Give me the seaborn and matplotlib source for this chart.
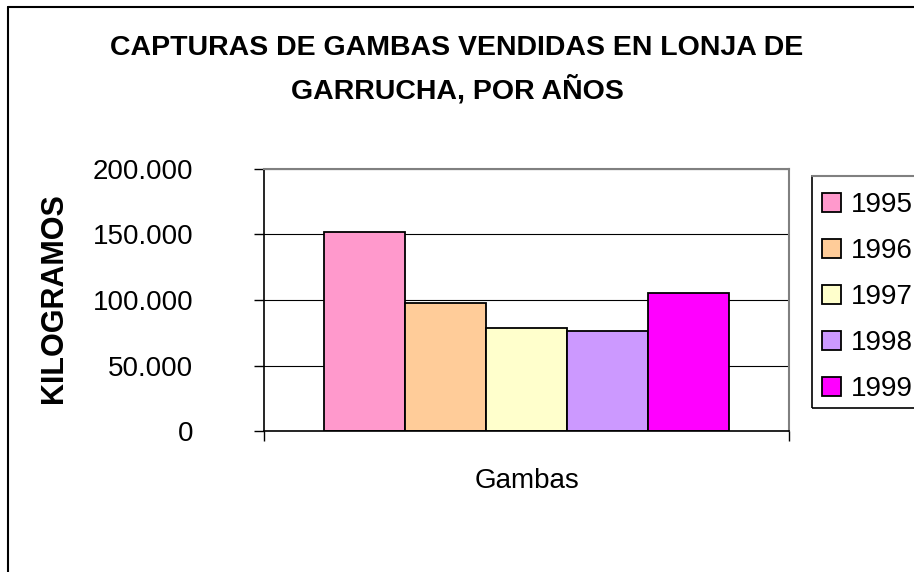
"""
Capturas de gambas vendidas en la lonja de Garrucha, por años.
"""
import matplotlib
matplotlib.use("Agg")
import matplotlib.pyplot as plt
import pandas as pd
import seaborn as sns
from matplotlib import ticker

# data
categoria = ["Gambas"]
anios = ["1995", "1996", "1997", "1998", "1999"]
kilogramos = [152000, 98000, 79000, 76000, 105000]
colores = ["#FF99CC", "#FFCC99", "#FFFFCC", "#CC99FF", "#FF00FF"]
yticks = [0, 50000, 100000, 150000, 200000]

df = pd.DataFrame({"categoria": categoria * len(anios), "anio": anios, "kg": kilogramos})

sns.set_theme(style="white")
plt.rcParams["font.family"] = ["Liberation Sans", "DejaVu Sans"]
plt.rcParams["text.color"] = "black"
plt.rcParams["xtick.color"] = "black"
plt.rcParams["ytick.color"] = "black"

W, H = 914, 572
fig = plt.figure(figsize=(W / 100, H / 100), dpi=100)
ax = fig.add_axes([264 / W, 1 - 431 / H, (789 - 264) / W, (431 - 169) / H])

sns.barplot(data=df, x="categoria", y="kg", hue="anio", palette=colores, width=0.77,
            gap=0, edgecolor="black", linewidth=1.3, saturation=1, legend=True, ax=ax)

ax.set_xlim(-0.5, 0.5)
ax.set_ylim(0, 200000)
ax.set_yticks(yticks)
ax.yaxis.set_major_formatter(ticker.FuncFormatter(lambda v, p: f"{int(v):,}".replace(",", ".")))
ax.yaxis.grid(True, color="black", lw=0.8)
ax.set_axisbelow(True)

ax.set_xticks([0])
ax.set_xticklabels(categoria)
ax.set_xticks([-0.5, 0.5], minor=True)
ax.tick_params(axis="x", which="major", bottom=True, length=0, pad=27, labelsize=20)
ax.tick_params(axis="x", which="minor", bottom=True, length=7, width=1, color="black", direction="out")
ax.tick_params(axis="y", left=True, length=7, width=1, color="black", direction="out", pad=44,
               labelsize=20)
ax.set_xlabel("")
ax.set_ylabel("")

for side in ["left", "bottom"]:
    ax.spines[side].set_color("black")
    ax.spines[side].set_linewidth(1.2)
for side in ["top", "right"]:
    ax.spines[side].set_color("#808080")
    ax.spines[side].set_linewidth(1.5)

# legend: entries without frame, the box is drawn separately (it runs past the right edge)
ax.get_legend().remove()
handles = [plt.Rectangle((0, 0), 1, 1, facecolor=c, edgecolor="black", lw=1.3) for c in colores]
leg = fig.legend(handles, anios, loc="upper left", bbox_to_anchor=(822 / W, 1 - 192 / H),
                 fontsize=20, frameon=False, handlelength=0.7, handleheight=0.7,
                 handletextpad=0.35, labelspacing=0.72, borderpad=0, borderaxespad=0)
fig.add_artist(plt.Rectangle((812 / W, 1 - 408 / H), 0.2, (408 - 176) / H, transform=fig.transFigure,
                             facecolor="none", edgecolor="black", lw=1.2))
fig.add_artist(plt.Line2D([812 / W, 1], [1 - 176 / H, 1 - 176 / H], transform=fig.transFigure,
                          color="#808080", lw=1.5))

fig.text(0.5, 1 - 48 / H, "CAPTURAS DE GAMBAS VENDIDAS EN LONJA DE", ha="center", va="center",
         fontsize=20.5, fontweight="bold")
fig.text(0.5, 1 - 90 / H, "GARRUCHA, POR AÑOS", ha="center", va="center",
         fontsize=20.5, fontweight="bold")
fig.text(54 / W, 1 - 298 / H, "KILOGRAMOS", rotation=90, ha="center", va="center",
         fontsize=22, fontweight="bold")

# outer chart frame (only left and top edges are visible in the crop)
fig.add_artist(plt.Line2D([8 / W, 8 / W], [0, 1 - 7 / H], transform=fig.transFigure,
                          color="black", lw=1.5))
fig.add_artist(plt.Line2D([8 / W, 1], [1 - 7 / H, 1 - 7 / H], transform=fig.transFigure,
                          color="black", lw=1.5))

fig.savefig("out.png", dpi=100)
